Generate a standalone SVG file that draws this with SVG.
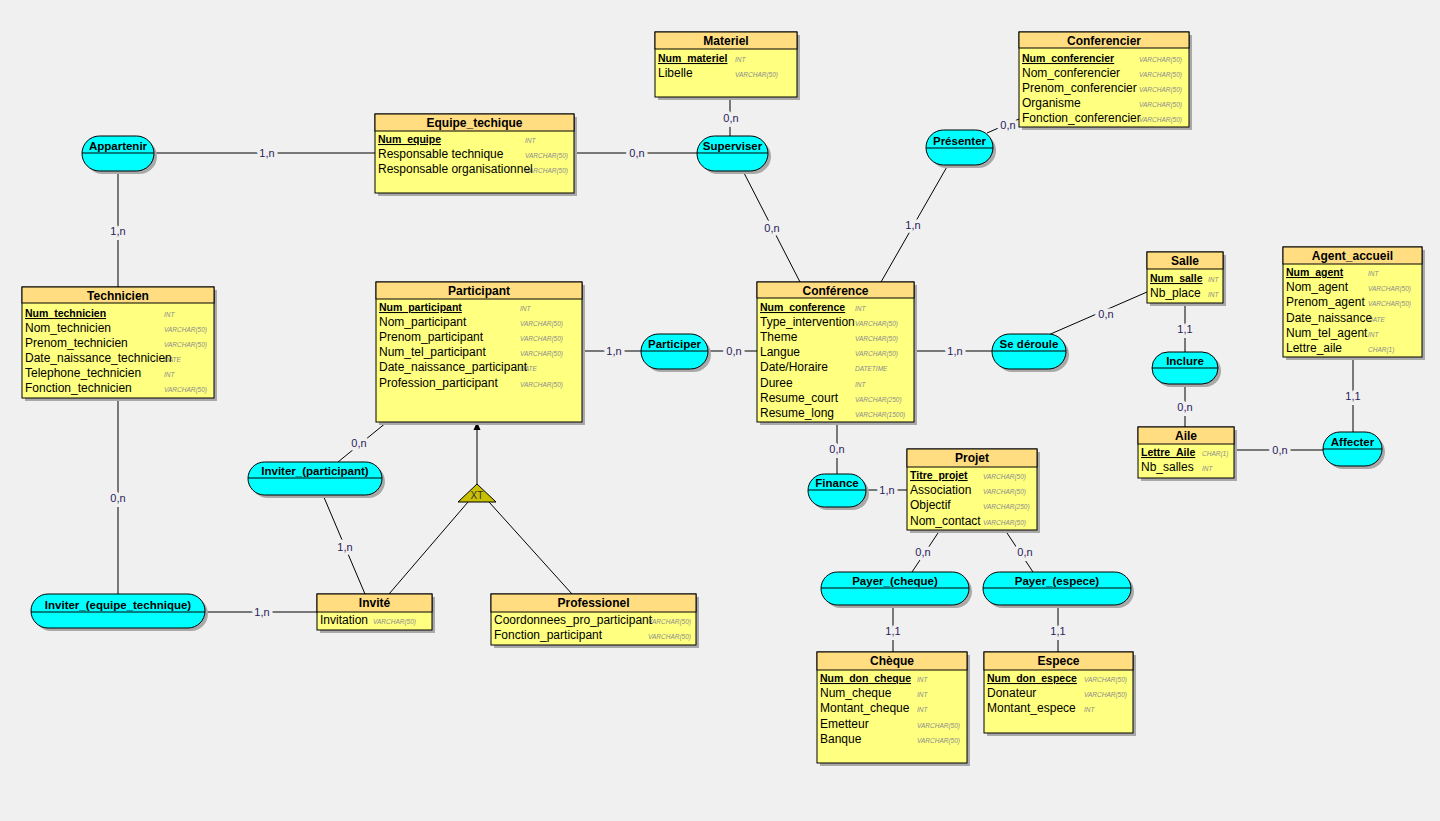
<svg xmlns="http://www.w3.org/2000/svg" width="1440" height="821" viewBox="0 0 1440 821">
<defs>
<style>
.bg{fill:#F0F0F0}
.sh{fill:#A9A9A9}
.eh{fill:#FFDD80;stroke:#000;stroke-width:1}
.eb{fill:#FFFF80;stroke:#000;stroke-width:1}
.as{fill:#00FFFF;stroke:#000;stroke-width:1}
.ln{stroke:#000;stroke-width:1;fill:none}
.th{font-family:"Liberation Sans",Arial,sans-serif;font-weight:bold;font-size:12px;text-anchor:middle;fill:#000}
.ta{font-family:"Liberation Sans",Arial,sans-serif;font-weight:bold;font-size:11.5px;text-anchor:middle;fill:#000}
.tk{font-family:"Liberation Sans",Arial,sans-serif;font-weight:bold;font-size:10.5px;text-decoration:underline;fill:#000}
.tt{font-family:"Liberation Sans",Arial,sans-serif;font-size:12px;fill:#000}
.ty{font-family:"Liberation Sans",Arial,sans-serif;font-style:italic;font-size:6.5px;fill:#8C8C8C}
.cd{font-family:"Liberation Sans",Arial,sans-serif;font-size:11px;text-anchor:middle;fill:#2B1B5B;stroke:#F0F0F0;stroke-width:7;stroke-linejoin:round;paint-order:stroke}
.xt{font-family:"Liberation Sans",Arial,sans-serif;font-size:10px;text-anchor:middle;fill:#333}
</style>
</defs>
<rect class="bg" x="0" y="0" width="1440" height="821"/>

<g id="connectors">
<line class="ln" x1="118" y1="171" x2="118" y2="287"/>
<line class="ln" x1="154" y1="153" x2="375" y2="153"/>
<line class="ln" x1="574" y1="153" x2="697" y2="153"/>
<line class="ln" x1="730" y1="97" x2="730" y2="136"/>
<line class="ln" x1="743" y1="171" x2="800" y2="282"/>
<line class="ln" x1="948" y1="165" x2="881" y2="282"/>
<line class="ln" x1="987" y1="133" x2="1019" y2="119"/>
<line class="ln" x1="582" y1="351" x2="641" y2="351"/>
<line class="ln" x1="708" y1="351" x2="757" y2="351"/>
<line class="ln" x1="914" y1="351" x2="992" y2="351"/>
<line class="ln" x1="1046" y1="336" x2="1147" y2="292"/>
<line class="ln" x1="1185" y1="303" x2="1185" y2="352"/>
<line class="ln" x1="1185" y1="384" x2="1185" y2="427"/>
<line class="ln" x1="1234" y1="450" x2="1323" y2="450"/>
<line class="ln" x1="1353" y1="357" x2="1353" y2="432"/>
<line class="ln" x1="837" y1="422" x2="837" y2="474"/>
<line class="ln" x1="866" y1="490" x2="907" y2="490"/>
<line class="ln" x1="940" y1="530" x2="912" y2="572"/>
<line class="ln" x1="1005" y1="530" x2="1033" y2="572"/>
<line class="ln" x1="893" y1="605" x2="893" y2="652"/>
<line class="ln" x1="1058" y1="605" x2="1058" y2="652"/>
<line class="ln" x1="387" y1="422" x2="338" y2="462"/>
<line class="ln" x1="323" y1="495" x2="365" y2="594"/>
<line class="ln" x1="118" y1="398" x2="118" y2="594"/>
<line class="ln" x1="205" y1="612" x2="317" y2="612"/>
<line class="ln" x1="477" y1="484" x2="477" y2="428"/>
<polygon points="477,422 473.5,430 480.5,430" fill="#000"/>
<line class="ln" x1="468" y1="502" x2="389" y2="594"/>
<line class="ln" x1="489" y1="502" x2="572" y2="594"/>
<text class="cd" x="118" y="235">1,n</text>
<text class="cd" x="267" y="157">1,n</text>
<text class="cd" x="637" y="157">0,n</text>
<text class="cd" x="731" y="122">0,n</text>
<text class="cd" x="772" y="232">0,n</text>
<text class="cd" x="913" y="229">1,n</text>
<text class="cd" x="1008" y="129">0,n</text>
<text class="cd" x="614" y="355">1,n</text>
<text class="cd" x="734" y="355">0,n</text>
<text class="cd" x="955" y="355">1,n</text>
<text class="cd" x="1106" y="318">0,n</text>
<text class="cd" x="1185" y="333">1,1</text>
<text class="cd" x="1185" y="411">0,n</text>
<text class="cd" x="1280" y="454">0,n</text>
<text class="cd" x="1353" y="400">1,1</text>
<text class="cd" x="837" y="453">0,n</text>
<text class="cd" x="887" y="494">1,n</text>
<text class="cd" x="923" y="556">0,n</text>
<text class="cd" x="1025" y="556">0,n</text>
<text class="cd" x="893" y="635">1,1</text>
<text class="cd" x="1058" y="635">1,1</text>
<text class="cd" x="359" y="447">0,n</text>
<text class="cd" x="345" y="551">1,n</text>
<text class="cd" x="118" y="502">0,n</text>
<text class="cd" x="262" y="616">1,n</text>
</g>

<g id="xt">
<path d="M477,484 L496,502 L458,502 Z" fill="#C8C000" stroke="#000" stroke-width="1"/>
<text class="xt" x="477" y="499">XT</text>
</g>

<g id="Materiel">
<rect class="sh" x="658" y="35" width="142" height="65"/>
<rect class="eb" x="655" y="32" width="142" height="65"/>
<rect class="eh" x="655" y="32" width="142" height="17"/>
<text class="th" x="726" y="45">Materiel</text>
<text class="tk" x="658" y="62">Num_materiel</text><text class="ty" x="735" y="62">INT</text>
<text class="tt" x="658" y="77">Libelle</text><text class="ty" x="735" y="77">VARCHAR(50)</text>
</g>

<g id="Equipe_techique">
<rect class="sh" x="378" y="117" width="199" height="79"/>
<rect class="eb" x="375" y="114" width="199" height="79"/>
<rect class="eh" x="375" y="114" width="199" height="17"/>
<text class="th" x="474.5" y="127">Equipe_techique</text>
<text class="tk" x="378" y="143">Num_equipe</text><text class="ty" x="525" y="143">INT</text>
<text class="ty" x="525" y="158">VARCHAR(50)</text><text class="tt" x="378" y="158">Responsable technique</text>
<text class="ty" x="525" y="173">VARCHAR(50)</text><text class="tt" x="378" y="173">Responsable organisationnel</text>
</g>

<g id="Conferencier">
<rect class="sh" x="1022" y="35" width="170" height="95"/>
<rect class="eb" x="1019" y="32" width="170" height="95"/>
<rect class="eh" x="1019" y="32" width="170" height="16"/>
<text class="th" x="1104" y="45">Conferencier</text>
<text class="tk" x="1022" y="62">Num_conferencier</text><text class="ty" x="1139" y="62">VARCHAR(50)</text>
<text class="ty" x="1139" y="77">VARCHAR(50)</text><text class="tt" x="1022" y="77">Nom_conferencier</text>
<text class="ty" x="1139" y="92">VARCHAR(50)</text><text class="tt" x="1022" y="92">Prenom_conferencier</text>
<text class="ty" x="1139" y="107">VARCHAR(50)</text><text class="tt" x="1022" y="107">Organisme</text>
<text class="ty" x="1139" y="122">VARCHAR(50)</text><text class="tt" x="1022" y="122">Fonction_conferencier</text>
</g>

<g id="Technicien">
<rect class="sh" x="25" y="290" width="192" height="111"/>
<rect class="eb" x="22" y="287" width="192" height="111"/>
<rect class="eh" x="22" y="287" width="192" height="16"/>
<text class="th" x="118" y="300">Technicien</text>
<text class="tk" x="25" y="317">Num_technicien</text><text class="ty" x="164" y="317">INT</text>
<text class="ty" x="164" y="332">VARCHAR(50)</text><text class="tt" x="25" y="332">Nom_technicien</text>
<text class="ty" x="164" y="347">VARCHAR(50)</text><text class="tt" x="25" y="347">Prenom_technicien</text>
<text class="ty" x="164" y="362">DATE</text><text class="tt" x="25" y="362">Date_naissance_technicien</text>
<text class="ty" x="164" y="377">INT</text><text class="tt" x="25" y="377">Telephone_technicien</text>
<text class="ty" x="164" y="392">VARCHAR(50)</text><text class="tt" x="25" y="392">Fonction_technicien</text>
</g>

<g id="Participant">
<rect class="sh" x="379" y="285" width="206" height="140"/>
<rect class="eb" x="376" y="282" width="206" height="140"/>
<rect class="eh" x="376" y="282" width="206" height="17"/>
<text class="th" x="479" y="295">Participant</text>
<text class="tk" x="379" y="311">Num_participant</text><text class="ty" x="520" y="311">INT</text>
<text class="ty" x="520" y="326">VARCHAR(50)</text><text class="tt" x="379" y="326">Nom_participant</text>
<text class="ty" x="520" y="341">VARCHAR(50)</text><text class="tt" x="379" y="341">Prenom_participant</text>
<text class="ty" x="520" y="356">VARCHAR(50)</text><text class="tt" x="379" y="356">Num_tel_participant</text>
<text class="ty" x="520" y="371">DATE</text><text class="tt" x="379" y="371">Date_naissance_participant</text>
<text class="ty" x="520" y="387">VARCHAR(50)</text><text class="tt" x="379" y="387">Profession_participant</text>
</g>

<g id="Conference">
<rect class="sh" x="760" y="285" width="157" height="140"/>
<rect class="eb" x="757" y="282" width="157" height="140"/>
<rect class="eh" x="757" y="282" width="157" height="16"/>
<text class="th" x="835.5" y="295">Conférence</text>
<text class="tk" x="760" y="311">Num_conference</text><text class="ty" x="855" y="311">INT</text>
<text class="ty" x="855" y="326">VARCHAR(50)</text><text class="tt" x="760" y="326">Type_intervention</text>
<text class="ty" x="855" y="341">VARCHAR(50)</text><text class="tt" x="760" y="341">Theme</text>
<text class="ty" x="855" y="356">VARCHAR(50)</text><text class="tt" x="760" y="356">Langue</text>
<text class="ty" x="855" y="371">DATETIME</text><text class="tt" x="760" y="371">Date/Horaire</text>
<text class="ty" x="855" y="387">INT</text><text class="tt" x="760" y="387">Duree</text>
<text class="ty" x="855" y="402">VARCHAR(250)</text><text class="tt" x="760" y="402">Resume_court</text>
<text class="ty" x="855" y="417">VARCHAR(1500)</text><text class="tt" x="760" y="417">Resume_long</text>
</g>

<g id="Salle">
<rect class="sh" x="1150" y="255" width="76" height="51"/>
<rect class="eb" x="1147" y="252" width="76" height="51"/>
<rect class="eh" x="1147" y="252" width="76" height="17"/>
<text class="th" x="1185" y="265">Salle</text>
<text class="tk" x="1150" y="282">Num_salle</text><text class="ty" x="1208" y="282">INT</text>
<text class="tt" x="1150" y="297">Nb_place</text><text class="ty" x="1208" y="297">INT</text>
</g>

<g id="Agent_accueil">
<rect class="sh" x="1286" y="250" width="139" height="110"/>
<rect class="eb" x="1283" y="247" width="139" height="110"/>
<rect class="eh" x="1283" y="247" width="139" height="17"/>
<text class="th" x="1352.5" y="260">Agent_accueil</text>
<text class="tk" x="1286" y="276">Num_agent</text><text class="ty" x="1368" y="276">INT</text>
<text class="ty" x="1368" y="291">VARCHAR(50)</text><text class="tt" x="1286" y="291">Nom_agent</text>
<text class="ty" x="1368" y="306">VARCHAR(50)</text><text class="tt" x="1286" y="306">Prenom_agent</text>
<text class="ty" x="1368" y="322">DATE</text><text class="tt" x="1286" y="322">Date_naissance</text>
<text class="ty" x="1368" y="337">INT</text><text class="tt" x="1286" y="337">Num_tel_agent</text>
<text class="ty" x="1368" y="352">CHAR(1)</text><text class="tt" x="1286" y="352">Lettre_aile</text>
</g>

<g id="Aile">
<rect class="sh" x="1141" y="430" width="96" height="51"/>
<rect class="eb" x="1138" y="427" width="96" height="51"/>
<rect class="eh" x="1138" y="427" width="96" height="17"/>
<text class="th" x="1186" y="440">Aile</text>
<text class="tk" x="1141" y="456">Lettre_Aile</text><text class="ty" x="1202" y="456">CHAR(1)</text>
<text class="tt" x="1141" y="471">Nb_salles</text><text class="ty" x="1202" y="471">INT</text>
</g>

<g id="Projet">
<rect class="sh" x="910" y="452" width="130" height="81"/>
<rect class="eb" x="907" y="449" width="130" height="81"/>
<rect class="eh" x="907" y="449" width="130" height="18"/>
<text class="th" x="972" y="462">Projet</text>
<text class="tk" x="910" y="479">Titre_projet</text><text class="ty" x="983" y="479">VARCHAR(50)</text>
<text class="ty" x="983" y="494">VARCHAR(50)</text><text class="tt" x="910" y="494">Association</text>
<text class="ty" x="983" y="509">VARCHAR(250)</text><text class="tt" x="910" y="509">Objectif</text>
<text class="ty" x="983" y="525">VARCHAR(50)</text><text class="tt" x="910" y="525">Nom_contact</text>
</g>

<g id="Invite">
<rect class="sh" x="320" y="597" width="115" height="36"/>
<rect class="eb" x="317" y="594" width="115" height="36"/>
<rect class="eh" x="317" y="594" width="115" height="18"/>
<text class="th" x="374.5" y="607">Invité</text>
<text class="ty" x="373" y="624">VARCHAR(50)</text><text class="tt" x="320" y="624">Invitation</text>
</g>

<g id="Professionel">
<rect class="sh" x="494" y="597" width="205" height="51"/>
<rect class="eb" x="491" y="594" width="205" height="51"/>
<rect class="eh" x="491" y="594" width="205" height="18"/>
<text class="th" x="593.5" y="607">Professionel</text>
<text class="ty" x="648" y="624">VARCHAR(50)</text><text class="tt" x="494" y="624">Coordonnees_pro_participant</text>
<text class="ty" x="648" y="639">VARCHAR(50)</text><text class="tt" x="494" y="639">Fonction_participant</text>
</g>

<g id="Cheque">
<rect class="sh" x="820" y="655" width="150" height="111"/>
<rect class="eb" x="817" y="652" width="150" height="111"/>
<rect class="eh" x="817" y="652" width="150" height="18"/>
<text class="th" x="892" y="665">Chèque</text>
<text class="tk" x="820" y="682">Num_don_cheque</text><text class="ty" x="917" y="682">INT</text>
<text class="ty" x="917" y="697">INT</text><text class="tt" x="820" y="697">Num_cheque</text>
<text class="ty" x="917" y="712">INT</text><text class="tt" x="820" y="712">Montant_cheque</text>
<text class="ty" x="917" y="728">VARCHAR(50)</text><text class="tt" x="820" y="728">Emetteur</text>
<text class="ty" x="917" y="743">VARCHAR(50)</text><text class="tt" x="820" y="743">Banque</text>
</g>

<g id="Espece">
<rect class="sh" x="987" y="655" width="149" height="81"/>
<rect class="eb" x="984" y="652" width="149" height="81"/>
<rect class="eh" x="984" y="652" width="149" height="18"/>
<text class="th" x="1058.5" y="665">Espece</text>
<text class="tk" x="987" y="682">Num_don_espece</text><text class="ty" x="1084" y="682">VARCHAR(50)</text>
<text class="ty" x="1084" y="697">VARCHAR(50)</text><text class="tt" x="987" y="697">Donateur</text>
<text class="ty" x="1084" y="712">INT</text><text class="tt" x="987" y="712">Montant_espece</text>
</g>

<g id="Appartenir">
<rect class="sh" x="85" y="139" width="72" height="35" rx="17.5"/>
<rect class="as" x="82" y="136" width="72" height="35" rx="17.5"/>
<line class="ln" x1="82" y1="153" x2="154" y2="153"/>
<text class="ta" x="118" y="150">Appartenir</text>
</g>
<g id="Superviser">
<rect class="sh" x="700" y="139" width="71" height="35" rx="17.5"/>
<rect class="as" x="697" y="136" width="71" height="35" rx="17.5"/>
<line class="ln" x1="697" y1="153" x2="768" y2="153"/>
<text class="ta" x="732.5" y="150">Superviser</text>
</g>
<g id="Presenter">
<rect class="sh" x="929" y="133" width="67" height="35" rx="17.5"/>
<rect class="as" x="926" y="130" width="67" height="35" rx="17.5"/>
<line class="ln" x1="926" y1="148" x2="993" y2="148"/>
<text class="ta" x="959.5" y="145">Présenter</text>
</g>
<g id="Participer">
<rect class="sh" x="644" y="337" width="67" height="35" rx="17.5"/>
<rect class="as" x="641" y="334" width="67" height="35" rx="17.5"/>
<line class="ln" x1="641" y1="351" x2="708" y2="351"/>
<text class="ta" x="674.5" y="348">Participer</text>
</g>
<g id="Se_deroule">
<rect class="sh" x="995" y="337" width="74" height="35" rx="17.5"/>
<rect class="as" x="992" y="334" width="74" height="35" rx="17.5"/>
<line class="ln" x1="992" y1="351" x2="1066" y2="351"/>
<text class="ta" x="1029" y="348">Se déroule</text>
</g>
<g id="Inclure">
<rect class="sh" x="1155" y="355" width="66" height="32" rx="16"/>
<rect class="as" x="1152" y="352" width="66" height="32" rx="16"/>
<line class="ln" x1="1152" y1="368" x2="1218" y2="368"/>
<text class="ta" x="1185" y="365">Inclure</text>
</g>
<g id="Affecter">
<rect class="sh" x="1326" y="435" width="59" height="34" rx="17"/>
<rect class="as" x="1323" y="432" width="59" height="34" rx="17"/>
<line class="ln" x1="1323" y1="449" x2="1382" y2="449"/>
<text class="ta" x="1352.5" y="446">Affecter</text>
</g>
<g id="Finance">
<rect class="sh" x="811" y="477" width="58" height="33" rx="16.5"/>
<rect class="as" x="808" y="474" width="58" height="33" rx="16.5"/>
<line class="ln" x1="808" y1="490" x2="866" y2="490"/>
<text class="ta" x="837" y="487">Finance</text>
</g>
<g id="Inviter_participant">
<rect class="sh" x="251" y="465" width="134" height="33" rx="16.5"/>
<rect class="as" x="248" y="462" width="134" height="33" rx="16.5"/>
<line class="ln" x1="248" y1="478" x2="382" y2="478"/>
<text class="ta" x="315" y="475">Inviter_(participant)</text>
</g>
<g id="Inviter_equipe_technique">
<rect class="sh" x="34" y="597" width="174" height="34" rx="17"/>
<rect class="as" x="31" y="594" width="174" height="34" rx="17"/>
<line class="ln" x1="31" y1="612" x2="205" y2="612"/>
<text class="ta" x="118" y="609">Inviter_(equipe_technique)</text>
</g>
<g id="Payer_cheque">
<rect class="sh" x="824" y="575" width="148" height="33" rx="16.5"/>
<rect class="as" x="821" y="572" width="148" height="33" rx="16.5"/>
<line class="ln" x1="821" y1="588" x2="969" y2="588"/>
<text class="ta" x="895" y="585">Payer_(cheque)</text>
</g>
<g id="Payer_espece">
<rect class="sh" x="986" y="575" width="148" height="33" rx="16.5"/>
<rect class="as" x="983" y="572" width="148" height="33" rx="16.5"/>
<line class="ln" x1="983" y1="588" x2="1131" y2="588"/>
<text class="ta" x="1057" y="585">Payer_(espece)</text>
</g>
</svg>
